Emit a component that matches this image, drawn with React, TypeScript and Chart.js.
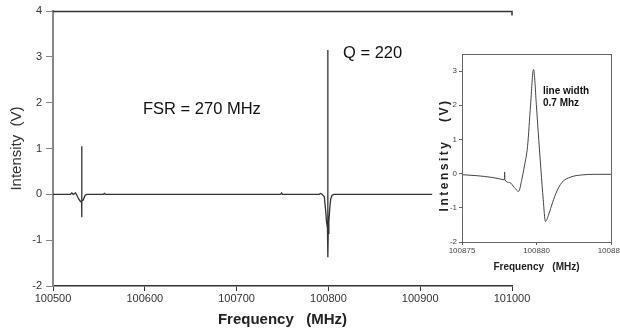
import React, { useEffect, useRef } from "react";
import { Chart, registerables } from "chart.js";

Chart.register(...registerables);

// ---- Main spectrum data (MHz, V) ----
const mainFreq = [
  100500, 100519, 100520.5, 100522, 100524.5, 100526, 100528, 100530, 100531.2,
  100531.25, 100531.35, 100531.5, 100533, 100535, 100537, 100555, 100556, 100557,
  100748, 100749, 100750, 100790, 100791.5, 100793, 100795.5, 100797, 100798,
  100799, 100799.35, 100799.45, 100799.8, 100800.5, 100801.5, 100802.5, 100804,
  100806, 100913,
];
const mainVolt = [
  0, 0, 0.03, 0, 0.03, -0.02, -0.1, -0.16, -0.15,
  1.05, -0.5, -0.15, -0.12, -0.02, 0, 0, 0.02, 0,
  0, 0.03, 0, 0, 0.02, 0, -0.05, -0.35, -0.6,
  -0.75, 3.15, -1.37, -0.85, -0.6, -0.3, -0.1, -0.02,
  0, 0,
];
const mainXTicks = [100500, 100600, 100700, 100800, 100900, 101000];
const mainYTicks = [-2, -1, 0, 1, 2, 3, 4];

// ---- Inset (zoom on the resonance) ----
const insetFreq = [
  100875.0, 100876.0, 100877.0, 100877.5, 100877.85, 100877.86, 100877.88,
  100878.2, 100878.5, 100878.8, 100879.0, 100879.2, 100879.4, 100879.6,
  100879.8, 100880.0, 100880.15, 100880.3, 100880.45, 100880.6, 100880.8,
  100881.0, 100881.3, 100881.7, 100882.3, 100883.0, 100884.0, 100885.0,
];
const insetVolt = [
  -0.03, -0.06, -0.11, -0.15, -0.18, 0.05, -0.18,
  -0.26, -0.4, -0.52, -0.2, 0.25, 0.8, 2.0,
  3.05, 1.95, 1.0, 0.1, -0.75, -1.4, -1.22,
  -0.95, -0.58, -0.26, -0.1, -0.04, -0.02, -0.02,
];
const insetXTicks = [100875, 100880, 100885];
const insetYTicks = [-2, -1, 0, 1, 2, 3];

const FONT = "'Liberation Sans', Arial, sans-serif";

const mainDecor = {
  id: "mainDecor",
  afterDraw(chart: any) {
    const { ctx, chartArea } = chart;
    ctx.save();
    ctx.strokeStyle = "#333";
    ctx.lineWidth = 1.5;
    ctx.beginPath();
    ctx.moveTo(chartArea.left, chartArea.top + 0.5);
    ctx.lineTo(chartArea.right, chartArea.top + 0.5);
    ctx.lineTo(chartArea.right, chartArea.top + 4.5);
    ctx.stroke();
    ctx.fillStyle = "#111";
    ctx.font = `16.5px ${FONT}`;
    ctx.textBaseline = "middle";
    ctx.textAlign = "left";
    ctx.fillText("FSR = 270 MHz", 143, 109);
    ctx.fillText("Q = 220", 343, 53);
    ctx.restore();
  },
};

const insetDecor = {
  id: "insetDecor",
  afterDraw(chart: any) {
    const { ctx, chartArea } = chart;
    ctx.save();
    ctx.strokeStyle = "#666";
    ctx.lineWidth = 1;
    ctx.strokeRect(
      chartArea.left + 0.5,
      chartArea.top + 0.5,
      chartArea.right - chartArea.left,
      chartArea.bottom - chartArea.top
    );
    ctx.fillStyle = "#111";
    ctx.font = `bold 10px ${FONT}`;
    ctx.textBaseline = "middle";
    ctx.textAlign = "left";
    ctx.fillText("line width", 128, 51);
    ctx.fillText("0.7 Mhz", 128, 63);
    // y-axis title, letter-spaced like the original
    ctx.translate(30, 115);
    ctx.rotate(-Math.PI / 2);
    ctx.textAlign = "center";
    ctx.fillStyle = "#222";
    ctx.font = `bold 12px ${FONT}`;
    (ctx as any).letterSpacing = "2.5px";
    ctx.fillText("Intensity   (V)", 0, 0);
    ctx.restore();
  },
};

export default function App() {
  const mainRef = useRef<HTMLCanvasElement>(null);
  const insetRef = useRef<HTMLCanvasElement>(null);

  useEffect(() => {
    document.body.style.margin = "0";
    const main = new Chart(mainRef.current as HTMLCanvasElement, {
      type: "line",
      data: {
        datasets: [
          {
            data: mainFreq.map((x, i) => ({ x, y: mainVolt[i] })),
            borderColor: "#333",
            borderWidth: 1.3,
            pointRadius: 0,
            tension: 0,
          },
        ],
      },
      options: {
        responsive: false,
        animation: false,
        events: [],
        layout: { padding: { top: 11, right: 108, left: 0, bottom: 0 } },
        plugins: { legend: { display: false }, tooltip: { enabled: false } },
        scales: {
          x: {
            type: "linear",
            min: mainXTicks[0],
            max: mainXTicks[mainXTicks.length - 1],
            afterFit: (s: any) => {
              s.height = 43;
              s.paddingLeft = 0;
              s.paddingRight = 0;
            },
            afterBuildTicks: (s: any) => {
              s.ticks = mainXTicks.map((v) => ({ value: v }));
            },
            ticks: {
              color: "#333",
              font: { family: FONT, size: 11 },
              padding: 1,
              maxRotation: 0,
              autoSkip: false,
              callback: (v: any) => String(v),
            },
            grid: { drawOnChartArea: false, tickLength: 5, color: "#333" },
            border: { color: "#333", width: 1.5 },
            title: {
              display: true,
              text: "Frequency   (MHz)",
              color: "#222",
              font: { family: FONT, size: 15, weight: "bold" },
              padding: { top: 0, bottom: 0 },
            },
          },
          y: {
            min: mainYTicks[0],
            max: mainYTicks[mainYTicks.length - 1],
            afterFit: (s: any) => {
              s.width = 53;
              s.paddingTop = 0;
              s.paddingBottom = 0;
            },
            afterBuildTicks: (s: any) => {
              s.ticks = mainYTicks.map((v) => ({ value: v }));
            },
            ticks: {
              color: "#333",
              font: { family: FONT, size: 11 },
              padding: 4,
              callback: (v: any) => String(v),
            },
            grid: { drawOnChartArea: false, tickLength: 7, color: "#888" },
            border: { color: "#888", width: 2 },
            title: {
              display: true,
              text: "Intensity  (V)",
              color: "#333",
              font: { family: FONT, size: 15 },
              padding: { top: 8, bottom: 0 },
            },
          },
        },
      },
      plugins: [mainDecor],
    } as any);

    const inset = new Chart(insetRef.current as HTMLCanvasElement, {
      type: "line",
      data: {
        datasets: [
          {
            data: insetFreq.map((x, i) => ({ x, y: insetVolt[i] })),
            borderColor: "#444",
            borderWidth: 1,
            pointRadius: 0,
            cubicInterpolationMode: "monotone",
          },
        ],
      },
      options: {
        responsive: false,
        animation: false,
        events: [],
        layout: { padding: { top: 14, right: 9, left: 0, bottom: 0 } },
        plugins: { legend: { display: false }, tooltip: { enabled: false } },
        scales: {
          x: {
            type: "linear",
            min: insetXTicks[0],
            max: insetXTicks[insetXTicks.length - 1],
            afterFit: (s: any) => {
              s.height = 38;
              s.paddingLeft = 0;
              s.paddingRight = 0;
            },
            afterBuildTicks: (s: any) => {
              s.ticks = insetXTicks.map((v) => ({ value: v }));
            },
            ticks: {
              color: "#444",
              font: { family: FONT, size: 8 },
              padding: 1,
              maxRotation: 0,
              autoSkip: false,
              callback: (v: any) => String(v),
            },
            grid: { drawOnChartArea: false, tickLength: 3, color: "#666" },
            border: { color: "#666", width: 1 },
            title: {
              display: true,
              text: "Frequency   (MHz)",
              color: "#222",
              font: { family: FONT, size: 10, weight: "bold" },
              padding: { top: 0, bottom: 7 },
            },
          },
          y: {
            min: -2,
            max: 3.5,
            afterFit: (s: any) => {
              s.width = 47;
              s.paddingTop = 0;
              s.paddingBottom = 0;
            },
            afterBuildTicks: (s: any) => {
              s.ticks = insetYTicks.map((v) => ({ value: v }));
            },
            ticks: {
              color: "#444",
              font: { family: FONT, size: 8 },
              padding: 2,
              callback: (v: any) => String(v),
            },
            grid: { drawOnChartArea: false, tickLength: 3, color: "#666" },
            border: { color: "#666", width: 1 },
          },
        },
      },
      plugins: [insetDecor],
    } as any);

    return () => {
      main.destroy();
      inset.destroy();
    };
  }, []);

  return (
    <div style={{ position: "relative", width: 620, height: 329, background: "#fff", overflow: "hidden" }}>
      <canvas ref={mainRef} width={620} height={329} style={{ position: "absolute", left: 0, top: 0 }} />
      <canvas ref={insetRef} width={205} height={240} style={{ position: "absolute", left: 415, top: 40 }} />
    </div>
  );
}
